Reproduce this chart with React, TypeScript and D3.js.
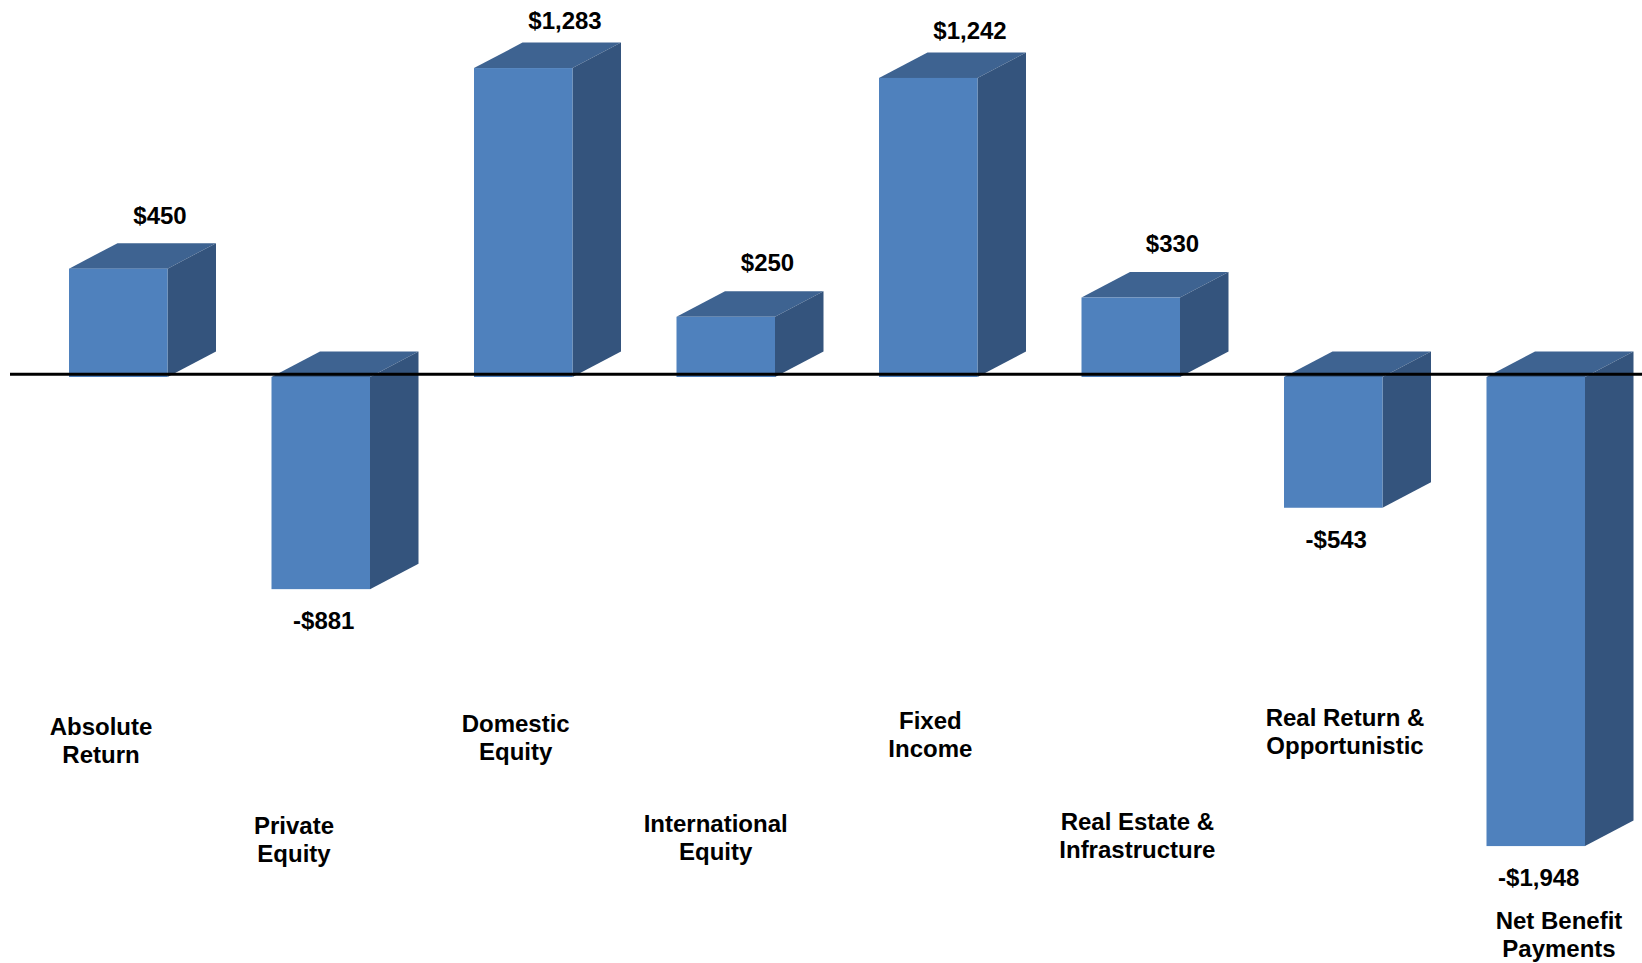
import React from "react";
import * as d3 from "d3";

const categories = [
  "Absolute Return",
  "Private Equity",
  "Domestic Equity",
  "International Equity",
  "Fixed Income",
  "Real Estate & Infrastructure",
  "Real Return & Opportunistic",
  "Net Benefit Payments",
];
const categoryLines = [
  ["Absolute", "Return"],
  ["Private", "Equity"],
  ["Domestic", "Equity"],
  ["International", "Equity"],
  ["Fixed", "Income"],
  ["Real Estate &", "Infrastructure"],
  ["Real Return &", "Opportunistic"],
  ["Net Benefit", "Payments"],
];
const values = [450, -881, 1283, 250, 1242, 330, -543, -1948];

const W = 1642;
const H = 963;
const ZERO_Y = 377;
const PX_PER_UNIT = 0.2408;
const DX = 48.5;
const DY = 25.5;
const FONT = "'Liberation Sans', Arial, Helvetica, sans-serif";
const FRONT = "#4F81BD";
const TOP = "#3E6391";
const SIDE = "#34547D";

export default function App() {
  const y = d3
    .scaleLinear()
    .domain([-2000, 1500])
    .range([ZERO_Y + 2000 * PX_PER_UNIT, ZERO_Y - 1500 * PX_PER_UNIT]);
  const x = d3
    .scaleBand<string>()
    .domain(categories)
    .range([69, 1585])
    .paddingInner(1 - 98.5 / 202.5)
    .paddingOuter(0);
  const evenCats = categories.filter((_, i) => i % 2 === 0);
  const oddCats = categories.filter((_, i) => i % 2 === 1);
  const xlEven = d3.scalePoint<string>().domain(evenCats).range([101, 1345]);
  const xlOdd = d3.scalePoint<string>().domain(oddCats).range([294, 1559]);
  const fmt = d3.format(",");
  const bw = x.bandwidth();
  const y0 = y(0);

  return (
    <svg
      width={W}
      height={H}
      style={{ position: "fixed", left: 0, top: 0, background: "#fff" }}
    >
      <defs>
        <filter id="sh" x="-5%" y="-200%" width="110%" height="500%">
          <feGaussianBlur stdDeviation="2" />
        </filter>
      </defs>
      {categories.map((c, i) => {
        const v = values[i];
        const x0 = x(c)!;
        const x1 = x0 + bw;
        const yt = y(Math.max(0, v));
        const yb = y(Math.min(0, v));
        const h = yb - yt;
        return (
          <g key={c}>
            <polygon
              points={`${x0},${yt} ${x0 + DX},${yt - DY} ${x1 + DX},${yt - DY} ${x1},${yt}`}
              fill={TOP}
            />
            <polygon
              points={`${x1},${yt} ${x1 + DX},${yt - DY} ${x1 + DX},${yb - DY} ${x1},${yb}`}
              fill={SIDE}
            />
            <rect x={x0} y={yt} width={bw} height={h} fill={FRONT} />
          </g>
        );
      })}
      <line x1={10} x2={W} y1={y0 - 2.7 + 4} y2={y0 - 2.7 + 4} stroke="#999" strokeWidth={4} filter="url(#sh)" opacity={0.7} />
      <line x1={10} x2={W} y1={y0 - 2.7} y2={y0 - 2.7} stroke="#000" strokeWidth={3} />
      {categories.map((c, i) => {
        const v = values[i];
        const x0 = x(c)!;
        const label = (v < 0 ? "-$" : "$") + fmt(Math.abs(v));
        if (v >= 0) {
          const yt = y(v);
          const h = y0 - yt;
          return (
            <text
              key={c}
              x={x0 + 91}
              y={yt - DY - (22 - h * 0.027)}
              textAnchor="middle"
              fontFamily={FONT}
              fontWeight="bold"
              fontSize={24}
              fill="#000"
            >
              {label}
            </text>
          );
        }
        return (
          <text
            key={c}
            x={x0 + bw / 2 + 3}
            y={y(v) + 40}
            textAnchor="middle"
            fontFamily={FONT}
            fontWeight="bold"
            fontSize={24}
            fill="#000"
          >
            {label}
          </text>
        );
      })}
      {categories.map((c, i) => {
        const v = values[i];
        const even = i % 2 === 0;
        const rowY = even ? 735 - 1.5 * i : 835 - i;
        const by = Math.max(rowY, y(Math.min(0, v)) + 40 + 43);
        const lx = even ? xlEven(c)! : xlOdd(c)!;
        return (
          <text
            key={c}
            x={lx}
            y={by}
            textAnchor="middle"
            fontFamily={FONT}
            fontWeight="bold"
            fontSize={24}
            fill="#000"
          >
            {categoryLines[i].map((ln, k) => (
              <tspan key={k} x={lx} dy={k === 0 ? 0 : 27.5}>
                {ln}
              </tspan>
            ))}
          </text>
        );
      })}
    </svg>
  );
}
